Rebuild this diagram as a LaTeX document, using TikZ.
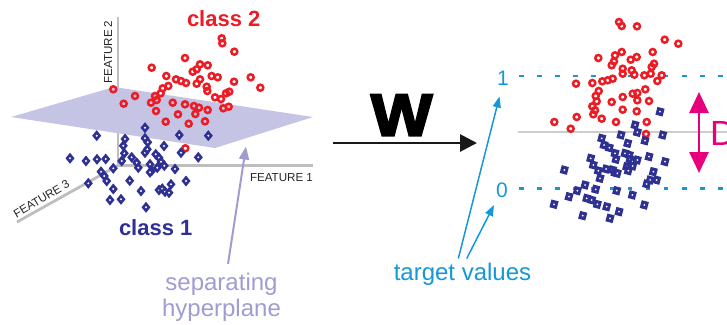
\documentclass[tikz,border=0pt]{standalone}
\usepackage{fontspec}
\setmainfont{Liberation Sans}
\newfontfamily\wfont[FakeBold=4,FakeStretch=1.1]{Liberation Sans Bold}
\usetikzlibrary{arrows.meta}
\definecolor{cred}{RGB}{237,28,36}
\definecolor{cnavy}{RGB}{46,49,146}
\definecolor{cplane}{RGB}{197,196,228}
\definecolor{clav}{RGB}{160,156,210}
\definecolor{ccyan}{RGB}{20,152,215}
\definecolor{cmag}{RGB}{230,0,126}
\definecolor{caxis}{RGB}{190,190,190}
\definecolor{cmid}{RGB}{205,205,205}
\tikzset{
  axisline/.style={draw=caxis, line width=2.8pt},
  ring/.style={draw=cred, line width=2.5pt},
  dashline/.style={draw=ccyan, line width=2.4pt, dash pattern=on 4.6pt off 13.5pt},
  featlbl/.style={font=\fontsize{11.6}{13}\selectfont, text=black!85},
  lbl/.style={font=\fontsize{24}{26.5}\selectfont},
  cyanarrow/.style={draw=ccyan, line width=1.5pt, -{Triangle[length=11pt,width=8pt]}},
}
\begin{document}
\begin{tikzpicture}[x=1pt,y=-1pt, every node/.style={inner sep=0pt, outer sep=0pt}]
\useasboundingbox (0,0) rectangle (727,324);
\clip (0,0) rectangle (727,324);

% ---------- left panel: axes ----------
\coordinate (o) at (118,165.5);
\coordinate (f2end) at (118,17);
\coordinate (f1end) at (313,165.5);
\coordinate (f3end) at (17,222);
\draw[axisline] (f2end) -- (o) -- (f1end);
\draw[axisline] (o) -- (f3end);

\node[featlbl, rotate=90, anchor=base west] (f2) at (112,83.5) {FEATURE 2};
\node[featlbl, anchor=base west] (f1) at (250,181.7) {FEATURE 1};
\node[featlbl, rotate=31, anchor=base west] (f3) at (16.5,218.5) {FEATURE 3};

% plane
\fill[cplane] (11,117) -- (114,87) -- (313,117) -- (215,148) -- cycle;

% class 2 circles (left)
\foreach \x/\y in {221.7/38.3,222.3/43.3,234.3/51.7,185/58,151.7/67.7,200/64.3,207.7/65.3,196.7/69.3,192.7/71.7,166.3/76,176/79.3,181/81,186/83,200/79.3,196.7/83.7,211.7/76,217.7/77.3,234/81.7,250.7/77.3,260.3/87.7,168.3/86,162.7/88.3,160.7/93.3,206.7/86.7,207.3/91,113.3/89.3,135/96,155/96,156.7/100,151/102.7,123.7/103.7,172.7/102.7,185/104.3,194/106,199/107.7,215/97.3,221/99,226/93.3,229.3/91.7,223.3/108.3,228.7/106.7,207.7/110,156/111,178/114.3,195.3/114,165.7/121.7,188.7/123.7,205/121.3,185.3/148.3}
  \draw[ring] (\x,\y) circle[radius=3pt];

% class 1 diamonds (left)
\foreach \x/\y in {145/127.7,96.7/135.7,125/139,145/138.3,147.7/142.3,164/146,179.3/135,208.3/135.7,123.3/145.7,124.3/153.3,145/152.7,147.3/149.3,181/152.7,70/158.3,86/161,97/159.3,105.7/159,131.7/157.3,155.7/154.3,159/157.7,161/161.7,198.3/157.3,121.7/161,136.7/162.7,138.3/167.7,150/164.3,151.7/170.7,150/172.3,157.3/167.7,164.3/165.7,113.3/168.3,101/171.7,104.3/176,106.7/181,175/169,129.7/180.7,186/181,88.3/183.3,113.3/189,141/191,171/184.3,159/190,162.3/188.7,165/191.7,169/192.7,110/200,121/199.3,146/207.3}
  {\fill[cnavy] (\x,\y) ++(0,-5.5) -- ++(4.5,5.5) -- ++(-4.5,5.5) -- ++(-4.5,-5.5) -- cycle;
   \fill[white] (\x,\y) circle[radius=1.1pt];}

\node[font=\fontsize{22}{26}\selectfont\bfseries, text=cred, anchor=base west] (c2) at (187,26) {class 2};
\node[font=\fontsize{22}{26}\selectfont\bfseries, text=cnavy, anchor=base west] (c1) at (119,235.5) {class 1};

% separating hyperplane label + arrow
\node[lbl, text=clav, align=center, anchor=base] (sep) at (221.5,316.5) {separating\\hyperplane};
\coordinate (septail) at (228,264);
\coordinate (planetip) at (246,146.5);
\draw[draw=clav, line width=2pt, -{Triangle[length=13pt,width=10pt]}] (septail) -- (planetip);

% ---------- middle: W ----------
\node[font=\wfont\fontsize{59}{60}\selectfont, anchor=base west] (w) at (371,135.5) {W};
\coordinate (wa) at (333,143);
\coordinate (wb) at (477,143);
\draw[line width=2.8pt, black!90, -{Triangle[length=17pt,width=17pt]}] (wa) -- (wb);

% ---------- right panel ----------
\draw[cmid, line width=2.2pt] (518,132) -- (727,132);
\draw[dashline] (519,75.7) -- (727,75.7);
\draw[dashline] (519,188.3) -- (727,188.3);
\node[font=\fontsize{21}{24}\selectfont, text=ccyan, anchor=base] (one) at (503,85) {1};
\node[font=\fontsize{21}{24}\selectfont, text=ccyan, anchor=base] (zero) at (502,197) {0};

% class 2 circles (right)
\foreach \x/\y in {619/22,621.7/26,637/26.3,664.7/39.7,678.3/43.7,598.3/58,621.7/52,615/55.3,614/61.3,611.7/65.3,630.7/59.7,636.7/57,652.7/52,654/63.7,651.7/67,650.7/73.7,622.7/68.7,622.7/73.7,631.7/70.3,634.3/74.7,644.3/75.3,661.7/75.3,657.3/81,576/83.7,592.3/83,602.3/81.3,607.7/80.3,612.7/78.7,598.7/91,595.7/96,596.7/101.3,592.3/106.3,595/110.3,593.3/114.3,622.7/97,632.7/93.7,637.3/93,645.3/89.3,637.3/100.3,649/101,611.7/102,622.7/109.7,636.7/111.3,554.3/122,576.7/117,601.7/118.7,616/122,646.7/122,570.7/128.7,646/134}
  \draw[ring] (\x,\y) circle[radius=3pt];

% class 1 squares (right)
\foreach \x/\y in {660/111.7,635/125,637.3/132.3,662.7/135,621/135,601.7/138.3,604/145,627.7/143.3,645/140.7,609.3/147.7,615/153.3,616/159.3,625/153.3,629.3/155,630/159.3,632.7/161.7,637.3/160,649/156.7,590.7/158.3,593.3/165,665/161.7,606/169,598.3/170.7,600/178.3,612.7/170,615/172.7,617.3/173.3,626.7/166.7,628.3/170.7,632.7/166,653.3/171.7,656.7/180,650/180,646.7/184,564.3/170,585/185,577.3/190.7,595.7/189.3,616.7/190.7,632.3/195,569/196.7,586.7/198.3,591.7/200,597.3/204.3,606.7/206.7,619/211.7,644.3/205,554/204.3,582.7/215.7,610/218.3}
  {\begin{scope}[shift={(\x,\y)}, rotate=-15]
     \fill[cnavy] (-3.7,-4) rectangle (3.7,4);
   \end{scope}
   \fill[white] (\x,\y) circle[radius=1pt];}

% target values
\node[lbl, text=ccyan, anchor=base] (tv) at (462.5,280) {target values};
\coordinate (t1tail) at (458.3,258.5);
\coordinate (t1tip) at (499.5,96.5);
\coordinate (t2tail) at (466.7,258.5);
\coordinate (t2tip) at (494,205);
\draw[cyanarrow] (t1tail) -- (t1tip);
\draw[cyanarrow] (t2tail) -- (t2tip);

% D double arrow
\coordinate (da) at (699,92);
\coordinate (db) at (699,173);
\draw[draw=cmag, line width=2.8pt, {Triangle[length=21pt,width=19pt]}-{Triangle[length=21pt,width=19pt]}] (da) -- (db);
\node[font=\fontsize{35}{38}\selectfont, text=cmag, anchor=base west] (d) at (710,145) {D};
\end{tikzpicture}
\end{document}
